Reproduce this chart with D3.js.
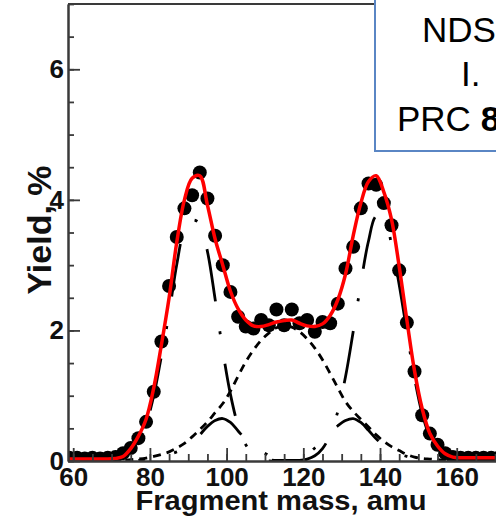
<!DOCTYPE html>
<html>
<head>
<meta charset="utf-8">
<script src="https://cdn.jsdelivr.net/npm/d3@7"></script>
<style>
  html, body { margin: 0; padding: 0; background: #fff; }
  svg { display: block; font-family: "Liberation Sans", Arial, sans-serif; }
</style>
</head>
<body>
<svg id="chart" width="496" height="520"></svg>
<script>
// Fragment masses (amu) at which yields are tabulated
const massGrid = [59,61,63,65,67,69,71,73,75,77,79,81,83,85,87,89,91,93,95,97,
                  99,101,103,105,107,109,111,113,115,117,119,121,123,125,127,129,131,133,135,137,
                  139,141,143,145,147,149,151,153,155,157,159,161,163,165,167,169,171,173,175,177];

// Measured yields, %
const measuredYield = [0.05,0.05,0.04,0.05,0.04,0.05,0.06,0.12,0.20,0.35,
                       0.60,1.06,1.83,2.68,3.43,3.87,4.07,4.42,4.02,3.45,
                       3.00,2.59,2.21,2.06,2.03,2.16,2.08,2.32,2.08,2.32,
                       2.11,2.16,1.98,2.13,2.11,2.41,2.95,3.28,3.87,4.25,
                       4.23,3.95,3.61,2.92,2.12,1.37,0.70,0.42,0.25,0.12,
                       0.06,0.05,0.05,0.05,0.05,0.05,0.05,0.05,0.05,0.05];

// Total fit, %
const totalFit = [0.03,0.03,0.03,0.03,0.03,0.03,0.04,0.07,0.19,0.38,
                  0.64,1.12,1.78,2.50,3.35,4.00,4.33,4.37,3.92,3.40,
                  3.00,2.60,2.33,2.16,2.07,2.06,2.09,2.13,2.15,2.16,
                  2.11,2.07,2.06,2.10,2.23,2.47,2.86,3.45,3.95,4.28,
                  4.37,4.12,3.70,2.98,2.16,1.38,0.80,0.42,0.23,0.11,
                  0.06,0.05,0.05,0.05,0.05,0.05,0.05,0.05,0.05,0.05];

// Asymmetric light-fragment mode
const lightMode = [0.02,0.02,0.02,0.02,0.02,0.02,0.02,0.05,0.16,0.33,
                   0.57,1.00,1.61,2.26,3.01,3.54,3.69,3.64,3.21,2.48,
                   1.69,1.02,0.54,0.25,0.10,0.04,0.02,0.01,0.01,0.01,
                   0.01,0.01,null,null,null,null,null,null,null,null,
                   null,null,null,null,null,null,null,null,null,null,
                   null,null,null,null,null,null,null,null,null,null];

// Asymmetric heavy-fragment mode
const heavyMode = [null,null,null,null,null,null,null,null,null,null,
                   null,null,null,null,null,null,null,null,null,null,
                   null,null,null,null,null,null,0.00,0.00,0.00,0.01,
                   0.01,0.03,0.08,0.19,0.40,0.76,1.29,1.98,2.72,3.37,
                   3.75,3.72,3.32,2.70,1.98,1.27,0.72,0.37,0.20,0.09,
                   0.04,0.02,0.01,0.01,0.01,0.01,0.01,0.01,0.01,0.01];

// Symmetric mode
const symmetricMode = [0.00,0.00,0.00,0.00,0.00,0.01,0.01,0.01,0.02,0.03,
                       0.045,0.07,0.10,0.14,0.20,0.27,0.37,0.48,0.60,0.74,
                       0.88,1.07,1.30,1.52,1.70,1.85,1.96,2.04,2.07,2.05,
                       1.98,1.87,1.73,1.55,1.34,1.12,0.91,0.76,0.64,0.52,
                       0.40,0.30,0.22,0.16,0.10,0.06,0.04,0.03,0.02,0.01,
                       0.01,0.01,0.01,0.01,0.01,0.01,0.01,0.01,0.01,0.01];

// Small shoulder next to the light peak
const lightShoulder = [null,null,null,null,null,null,null,null,null,0.01,
                       0.03,0.05,0.07,0.10,0.14,0.19,0.27,0.40,0.53,0.62,
                       0.65,0.59,0.46,0.33,0.22,0.15,0.09,0.05,0.02,0.01,
                       0.00,0.00,null,null,null,null,null,null,null,null,
                       null,null,null,null,null,null,null,null,null,null,
                       null,null,null,null,null,null,null,null,null,null];

// Small shoulder next to the heavy peak
const heavyShoulder = [null,null,null,null,null,null,null,null,null,null,
                       null,null,null,null,null,null,null,null,null,null,
                       null,null,null,null,null,null,0.00,0.00,0.01,0.02,
                       0.05,0.10,0.20,0.31,0.43,0.54,0.62,0.65,0.59,0.47,
                       0.34,0.24,0.17,0.11,0.07,0.04,0.02,0.01,0.00,0.00,
                       null,null,null,null,null,null,null,null,null,null];

const xMajorTicks = [60, 80, 100, 120, 140, 160];
const xMinorTicks = [60,65,70,75,80,85,90,95,100,105,110,115,120,125,130,135,140,145,150,155,160,165,170,175];
const yMajorTicks = [0, 2, 4, 6];
const yMinorTicks = [0,0.5,1,1.5,2,2.5,3,3.5,4,4.5,5,5.5,6,6.5,7];
const xTitle = "Fragment mass, amu";
const yTitle = "Yield, %";
const noteLines = ["NDS", "I.", "PRC "];
const noteBold = "8";

const svg = d3.select("#chart");

const plotLeft = 68, plotTop = 4, plotBottom = 461;
const x = d3.scaleLinear().domain([58.64, 180]).range([plotLeft, plotLeft + (180 - 58.64) * 3.835]);
const y = d3.scaleLinear().domain([0, 7]).range([plotBottom, plotTop]);

svg.append("defs").append("clipPath").attr("id", "plot-clip")
  .append("rect").attr("x", plotLeft).attr("y", plotTop)
  .attr("width", 600).attr("height", plotBottom - plotTop);

const plot = svg.append("g").attr("clip-path", "url(#plot-clip)");

const rows = series => massGrid.map((m, i) => ({ m, v: series[i] }));
const line = d3.line()
  .defined(d => d.v != null)
  .x(d => x(d.m))
  .y(d => y(d.v))
  .curve(d3.curveCatmullRom.alpha(0.5));

// Length along a path where it reaches a given mass
function lengthAtMass(node, m) {
  const target = x(m);
  let lo = 0, hi = node.getTotalLength();
  for (let i = 0; i < 30; i++) {
    const mid = (lo + hi) / 2;
    if (node.getPointAtLength(mid).x < target) lo = mid; else hi = mid;
  }
  return lo;
}

const dashDot = [53, 30, 3, 30];

function component(series, dash, anchorMass, anchorPhase) {
  const p = plot.append("path")
    .datum(rows(series))
    .attr("d", line)
    .attr("fill", "none")
    .attr("stroke", "#000")
    .attr("stroke-width", 2.8)
    .attr("stroke-dasharray", dash.join(" "));
  if (anchorMass != null) {
    const period = d3.sum(dash);
    const len = lengthAtMass(p.node(), anchorMass);
    const off = ((anchorPhase - len) % period + period) % period;
    p.attr("stroke-dashoffset", off);
  }
  return p;
}

// Fit components
component(symmetricMode, [8, 6]);
component(lightShoulder, dashDot, 98.6, 26.5);
component(heavyShoulder, dashDot, 134.8, 26.5);
component(lightMode, dashDot, 92, 84.5);
component(heavyMode, dashDot, 134.3, 84.5);

// Measured points
plot.append("g").selectAll("circle")
  .data(rows(measuredYield))
  .join("circle")
  .attr("cx", d => x(d.m))
  .attr("cy", d => y(d.v))
  .attr("r", 7)
  .attr("fill", "#000");

// Total fit
plot.append("path")
  .datum(rows(totalFit))
  .attr("d", line)
  .attr("fill", "none")
  .attr("stroke", "#ff0000")
  .attr("stroke-width", 3.5);

// Axes
const axisColor = "#3a3a3a";
function styleAxis(g) {
  g.select(".domain").attr("stroke", axisColor).attr("stroke-width", 2);
  g.selectAll(".tick line").attr("stroke", axisColor).attr("stroke-width", 1.8);
  g.selectAll(".tick text").attr("fill", "#111").attr("font-size", 26)
    .attr("font-weight", "bold")
    .attr("font-family", "'Liberation Sans', Arial, sans-serif");
}

svg.append("g").attr("transform", `translate(0,${plotBottom})`)
  .call(d3.axisBottom(x).tickValues(xMinorTicks).tickSize(-7).tickSizeOuter(0).tickFormat(""))
  .call(styleAxis);
svg.append("g").attr("transform", `translate(0,${plotBottom})`)
  .call(d3.axisBottom(x).tickValues(xMajorTicks).tickSize(-13).tickSizeOuter(0).tickPadding(7).tickFormat(d3.format("d")))
  .call(styleAxis);

svg.append("g").attr("transform", `translate(${plotLeft},0)`)
  .call(d3.axisLeft(y).tickValues(yMinorTicks).tickSize(-6).tickSizeOuter(0).tickFormat(""))
  .call(styleAxis);
svg.append("g").attr("transform", `translate(${plotLeft},0)`)
  .call(d3.axisLeft(y).tickValues(yMajorTicks).tickSize(-12).tickSizeOuter(0).tickPadding(4).tickFormat(d3.format("d")))
  .call(styleAxis);

// Top frame line
svg.append("line")
  .attr("x1", plotLeft).attr("x2", 496)
  .attr("y1", plotTop).attr("y2", plotTop)
  .attr("stroke", axisColor).attr("stroke-width", 2);

// Axis titles
svg.append("text")
  .attr("x", 281).attr("y", 510)
  .attr("text-anchor", "middle")
  .attr("font-size", 28).attr("font-weight", "bold").attr("fill", "#111")
  .attr("textLength", 291).attr("lengthAdjust", "spacingAndGlyphs")
  .text(xTitle);

svg.append("text")
  .attr("transform", "translate(51,230) rotate(-90)")
  .attr("text-anchor", "middle")
  .attr("font-size", 34).attr("font-weight", "bold").attr("fill", "#111")
  .text(yTitle);

// Reference note box
svg.append("rect")
  .attr("x", 375).attr("y", -5).attr("width", 200).attr("height", 156)
  .attr("fill", "#fff").attr("stroke", "#5a86c4").attr("stroke-width", 2);

const note = svg.append("text").attr("font-size", 35).attr("fill", "#000");
note.append("tspan").attr("x", 422).attr("y", 42).text(noteLines[0]);
note.append("tspan").attr("x", 461).attr("y", 86).text(noteLines[1]);
note.append("tspan").attr("x", 397).attr("y", 131).text(noteLines[2]);
note.append("tspan").attr("font-weight", "bold").text(noteBold);
</script>
</body>
</html>
